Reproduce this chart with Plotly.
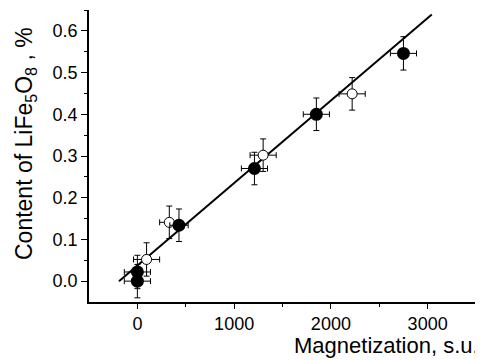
import plotly.graph_objects as go

# Filled circles
filled_x = [0, 0, 430, 1210, 1850, 2750]
filled_y = [0.0, 0.022, 0.134, 0.27, 0.40, 0.546]
filled_ex = [135, 135, 95, 135, 135, 135]
filled_ey = [0.04, 0.04, 0.039, 0.039, 0.039, 0.04]

# Open circles
open_x = [95, 330, 1300, 2220]
open_y = [0.052, 0.141, 0.302, 0.449]
open_ex = [135, 100, 135, 135]
open_ey = [0.04, 0.039, 0.039, 0.039]

# Fitted line
fit_x = [-190, 3043]
fit_y = [0.0, 0.639]

x_tickvals = [0, 1000, 2000, 3000]
x_ticktext = ["0", "1000", "2000", "3000"]
y_tickvals = [0, 0.1, 0.2, 0.3, 0.4, 0.5, 0.6]
y_ticktext = ["0.0", "0.1", "0.2", "0.3", "0.4", "0.5", "0.6"]

fig = go.Figure()
fig.add_trace(go.Scatter(x=fit_x, y=fit_y, mode="lines",
                         line=dict(color="black", width=2), showlegend=False))
fig.add_trace(go.Scatter(
    x=open_x, y=open_y, mode="markers",
    marker=dict(symbol="circle", size=10, color="white", line=dict(color="black", width=1)),
    error_x=dict(type="data", array=open_ex, color="black", thickness=1, width=3),
    error_y=dict(type="data", array=open_ey, color="black", thickness=1, width=3),
    showlegend=False))
fig.add_trace(go.Scatter(
    x=filled_x, y=filled_y, mode="markers",
    marker=dict(symbol="circle", size=13, color="black", line=dict(color="black", width=0)),
    error_x=dict(type="data", array=filled_ex, color="black", thickness=1, width=3),
    error_y=dict(type="data", array=filled_ey, color="black", thickness=1, width=3),
    showlegend=False))

fam = "Liberation Sans, Arial, sans-serif"

# page body has an 8px default margin, so the figure is sized/offset to compensate
fig.update_layout(
    template="none",
    width=475, height=352,
    margin=dict(l=81, r=7, t=2, b=58, pad=0),
    paper_bgcolor="white", plot_bgcolor="white",
    font=dict(family=fam, size=18, color="black"),
    xaxis=dict(range=[-500, 3500], showgrid=False, zeroline=False, automargin=False,
               showline=True, linecolor="black", linewidth=1.5,
               ticks="outside", ticklen=5, tickwidth=1, tickcolor="black",
               tickvals=x_tickvals, ticktext=x_ticktext,
               minor=dict(tickvals=[500, 1500, 2500, 3500], ticks="outside",
                          ticklen=3, tickwidth=1, tickcolor="black"),
               tickfont=dict(size=18, family=fam, color="black")),
    yaxis=dict(range=[-0.05, 0.65], showgrid=False, zeroline=False, automargin=False,
               showline=True, linecolor="black", linewidth=1.5,
               ticks="outside", ticklen=6, tickwidth=1, tickcolor="black",
               tickvals=y_tickvals, ticktext=y_ticktext,
               minor=dict(tickvals=[0.05, 0.15, 0.25, 0.35, 0.45, 0.55, 0.65],
                          ticks="outside", ticklen=3, tickwidth=1, tickcolor="black"),
               tickfont=dict(size=18, family=fam, color="black")),
    annotations=[
        dict(text="Magnetization, s.u.", xref="paper", yref="paper",
             x=1.0, y=0, xanchor="right", yanchor="top", yshift=-29, xshift=5,
             showarrow=False, font=dict(size=22, family=fam, color="black")),
        dict(text="Content of LiFe<sub>5</sub>O<sub>8</sub> , %", xref="paper", yref="paper",
             x=0, y=0.5, xanchor="center", yanchor="middle", xshift=-64, yshift=12,
             textangle=-90, showarrow=False, font=dict(size=23, family=fam, color="black")),
    ],
)

fig.write_html("out.html")
